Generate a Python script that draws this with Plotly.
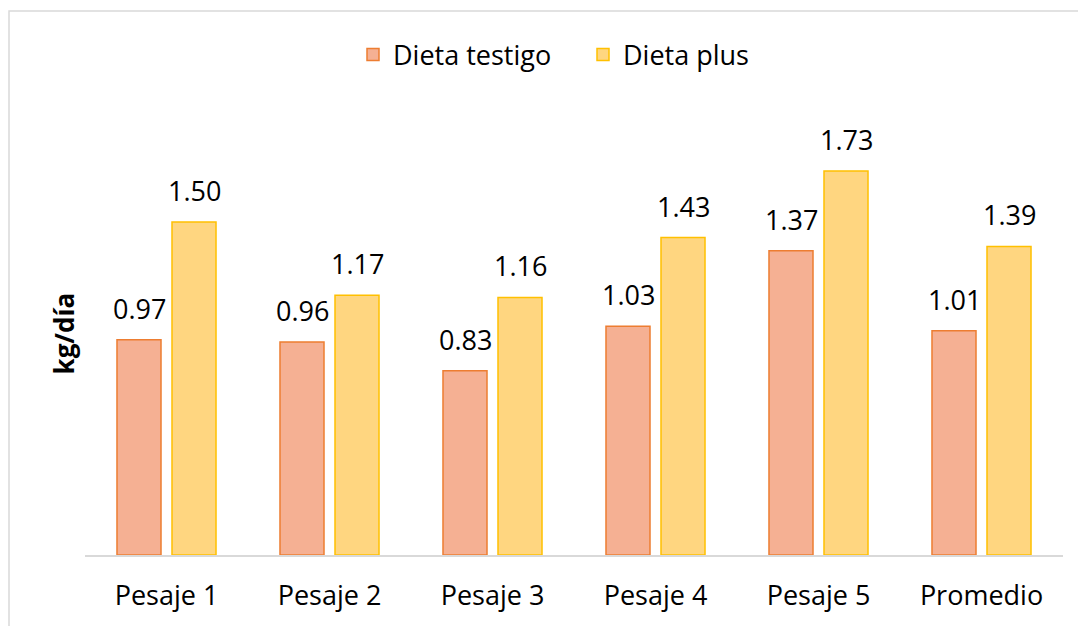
import plotly.graph_objects as go

categories = ["Pesaje 1", "Pesaje 2", "Pesaje 3", "Pesaje 4", "Pesaje 5", "Promedio"]
testigo = [0.97, 0.96, 0.83, 1.03, 1.37, 1.01]
plus = [1.50, 1.17, 1.16, 1.43, 1.73, 1.39]

FONT = "Open Sans"
FS = 27

fig = go.Figure()
fig.add_trace(go.Bar(
    name="Dieta testigo", x=categories, y=testigo,
    marker=dict(color="#F5B093", line=dict(color="#ED7D31", width=1.5)),
))
fig.add_trace(go.Bar(
    name="Dieta plus", x=categories, y=plus,
    marker=dict(color="#FFD680", line=dict(color="#FFC000", width=1.5)),
))

annotations = []
for series, shift in ((testigo, -27.5), (plus, 27.5)):
    for cat, v in zip(categories, series):
        annotations.append(dict(
            x=cat, y=v, xref="x", yref="y", text=f"{v:.2f}", showarrow=False,
            xanchor="center", yanchor="bottom", xshift=shift, yshift=11,
            font=dict(size=FS, family=FONT, color="#000000")))
annotations.append(dict(text="<b>kg/día</b>", xref="paper", yref="paper",
                        x=-0.021, y=0.5, xanchor="center", yanchor="middle",
                        textangle=-90, showarrow=False,
                        font=dict(size=26, family=FONT, color="#000000")))

fig.update_layout(
    width=1078, height=626,
    margin=dict(l=85, r=15, t=111, b=71, autoexpand=False),
    paper_bgcolor="white", plot_bgcolor="white",
    barmode="group", bargap=0.325, bargroupgap=0.2,
    font=dict(family=FONT, size=FS, color="#000000"),
    legend=dict(orientation="h", x=353 / 1078, xanchor="left", xref="container",
                y=1 - 55 / 626, yanchor="middle", yref="container",
                bgcolor="rgba(0,0,0,0)", entrywidth=185, entrywidthmode="pixels",
                font=dict(size=FS, family=FONT), traceorder="normal"),
    xaxis=dict(showline=True, linecolor="#D9D9D9", linewidth=1.5, ticks="",
               automargin=False, ticklabelstandoff=16,
               tickfont=dict(size=FS, family=FONT, color="#000000")),
    yaxis=dict(range=[0, 2.0], visible=False, showgrid=False, zeroline=False,
               automargin=False),
    annotations=annotations,
    shapes=[dict(type="rect", xref="paper", yref="paper",
                 x0=-0.0777, x1=1.1, y0=-0.3, y1=1.225,
                 line=dict(color="#D9D9D9", width=1.5), fillcolor="rgba(0,0,0,0)",
                 layer="below")],
)

fig.write_html("out.html", config={"displayModeBar": False},
               post_script="document.body.style.margin='0';")
